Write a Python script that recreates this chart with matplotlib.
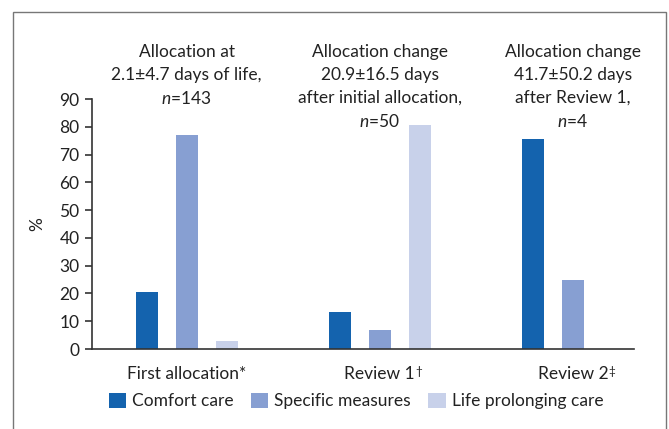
import numpy as np
import matplotlib.pyplot as plt
import matplotlib.transforms as mtransforms
from matplotlib.patches import Rectangle

plt.rcParams['font.family'] = ['Lato', 'DejaVu Sans']
plt.rcParams['mathtext.fontset'] = 'custom'
plt.rcParams['mathtext.rm'] = 'Lato'
plt.rcParams['mathtext.it'] = 'Lato:italic'

# data (% of infants in each care category)
groups = ["First allocation*", "Review 1", "Review 2"]
marks = ["", "\u2020", "\u2021"]
notes = ["Allocation at\n2.1\u00b14.7 days of life,\n$n$=143",
         "Allocation change\n20.9\u00b116.5 days\nafter initial allocation,\n$n$=50",
         "Allocation change\n41.7\u00b150.2 days\nafter Review 1,\n$n$=4"]
series = ["Comfort care", "Specific measures", "Life prolonging care"]
comfort = [20.5, 13.5, 75.5]
specific = [77, 7, 25]
prolong = [3, 80.5, 0]
colors = ["#1463ae", "#879fd2", "#c8d1ea"]

fig = plt.figure(figsize=(6.69, 4.29), dpi=100)
W, H = 669, 429
ax = fig.add_axes([92 / W, 1 - 349 / H, (634 - 92) / W, (349 - 99) / H])

x = np.arange(len(groups))
off = 0.207
bw = 0.114
for i, (vals, c, lab) in enumerate(zip([comfort, specific, prolong], colors, series)):
    ax.bar(x + (i - 1) * off, vals, bw, color=c, label=lab)

ax.set_xlim(-0.49, 2.316)
ax.set_ylim(0, 90)
ax.set_yticks(range(0, 91, 10))
ax.set_xticks(x)
ax.set_xticklabels(groups, fontsize=12.5, color="#222222")
ax.tick_params(axis='x', length=0, pad=12.5)
ax.tick_params(axis='y', length=5, width=1.2, color="#333333", labelsize=12.5,
               labelcolor="#222222", pad=4)
for s in ["top", "right"]:
    ax.spines[s].set_visible(False)
for s in ["left", "bottom"]:
    ax.spines[s].set_color("#333333")
    ax.spines[s].set_linewidth(1.2)
ax.set_ylabel("%", fontsize=12.5, color="#222222", labelpad=10)

# notes above each group, top-aligned
trans = mtransforms.blended_transform_factory(ax.transData, fig.transFigure)
for xi, t in zip(x, notes):
    ax.text(xi, 1 - 44 / H, t, ha='center', va='top', fontsize=12.5, color="#222222",
            linespacing=1.52, transform=trans)

# small raised footnote marks after the category labels
fig.canvas.draw()
for lbl, m in zip(ax.get_xticklabels(), marks):
    if not m:
        continue
    bb = lbl.get_window_extent()
    fig.text(bb.x1 / W, bb.y1 / H, m, fontsize=8.5, color="#222222",
             ha='left', va='top')

fig.legend(loc='center', bbox_to_anchor=(356 / W, 1 - 401 / H), ncol=3, frameon=False,
           fontsize=12.5, handlelength=1.0, handleheight=1.0, handletextpad=0.35,
           columnspacing=1.0, labelcolor="#222222")

fig.add_artist(Rectangle((13 / W, -0.05), (666 - 13) / W, 1.05 - 12 / H,
                         transform=fig.transFigure, fill=False, edgecolor="#777777",
                         linewidth=1.0))

fig.savefig("out.png", dpi=100)
